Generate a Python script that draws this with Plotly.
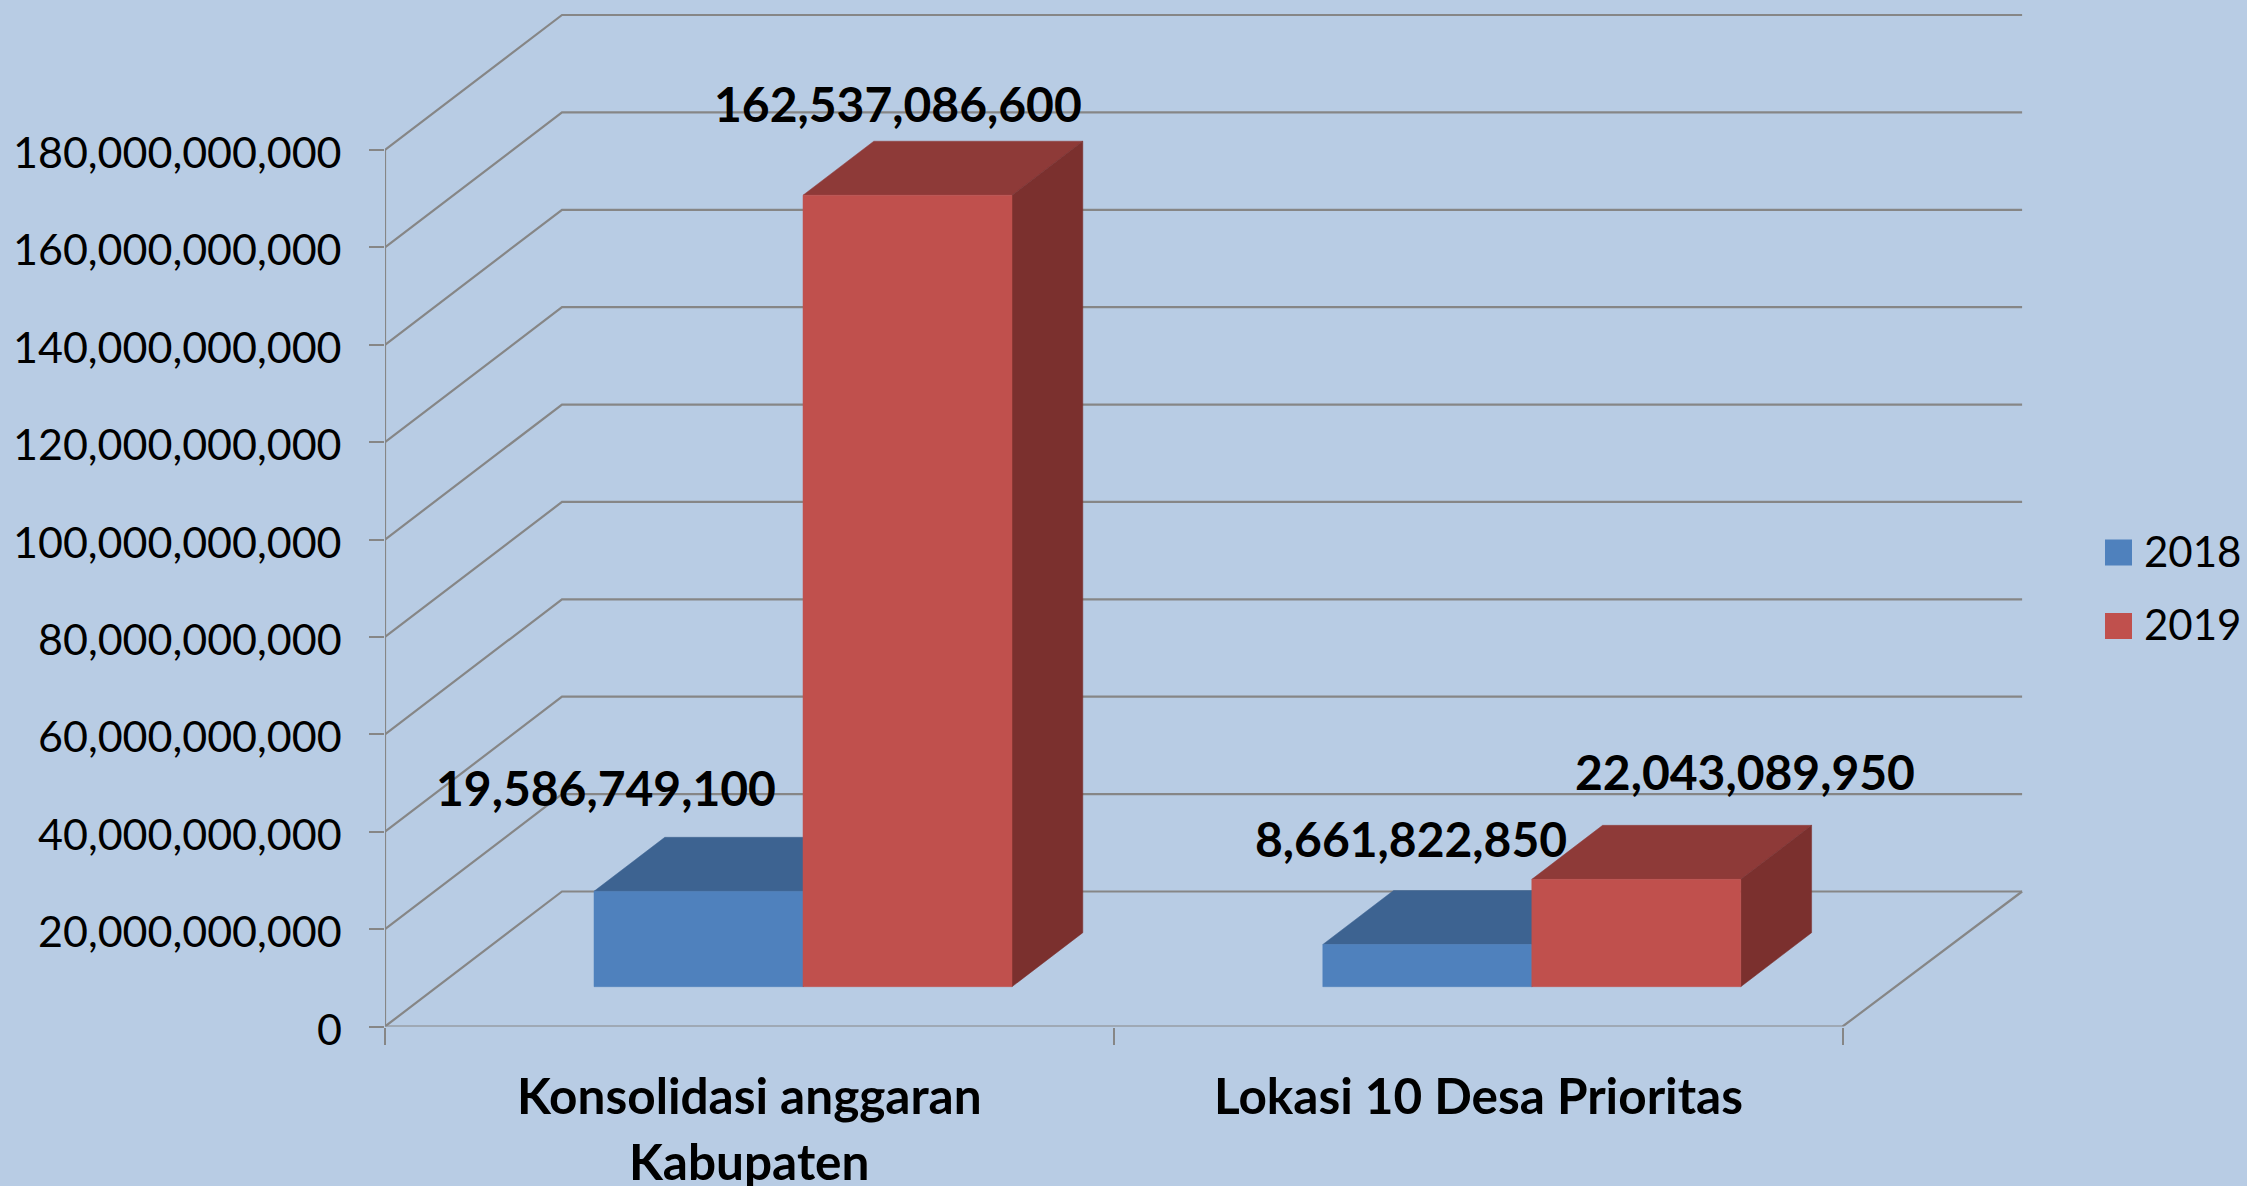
import plotly.graph_objects as go

categories = [["Konsolidasi anggaran", "Kabupaten"], ["Lokasi 10 Desa Prioritas"]]
series_names = ["2018", "2019"]
values_2018 = [19586749100, 8661822850]
values_2019 = [162537086600, 22043089950]
y_ticks = [0, 20e9, 40e9, 60e9, 80e9, 100e9, 120e9, 140e9, 160e9, 180e9]

W, H = 2247, 1186
PX0, PY0 = 385.0, 1026.5
PX_PER_CAT = 728.8
PX_PER_VAL = 876.5 / 180e9
DEPTH_X = 177 / PX_PER_CAT
DEPTH_Y = 135 / PX_PER_VAL
BACK_EXTRA = 2.5 / PX_PER_CAT
BAR_W = 209 / PX_PER_CAT
BAR_D0, BAR_D1 = 0.295, 0.695
BG = "#B8CCE4"
GRID = "#868686"
COLORS = [("#4F81BD", "#3D6391", "#36587F"), ("#C0504D", "#8E3A38", "#7B302E")]
LABEL_SHIFT = [[(-93, 104), (-16, 106)], [(-10, 92), (109, 108)]]

fig = go.Figure()


def lines(xs, ys):
    fig.add_trace(go.Scatter(x=xs, y=ys, mode="lines", showlegend=False, hoverinfo="skip",
                             line=dict(color=GRID, width=2.2)))


gx, gy = [], []
for v in y_ticks:
    gx += [0, DEPTH_X, 2 + DEPTH_X + BACK_EXTRA, None]
    gy += [v, v + DEPTH_Y, v + DEPTH_Y, None]
gx += [0, 0, None, 0, 2, 2 + DEPTH_X + BACK_EXTRA]
gy += [0, y_ticks[-1], None, 0, 0, DEPTH_Y]
lines(gx, gy)


def face(pts, color, name):
    fig.add_trace(go.Scatter(x=[p[0] for p in pts], y=[p[1] for p in pts], mode="lines",
                             fill="toself", fillcolor=color, line=dict(color=color, width=0.5),
                             name=name, showlegend=False, hoverinfo="skip"))


all_values = [values_2018, values_2019]
ann = []
for s, vals in enumerate(all_values):
    for c, v in enumerate(vals):
        left = c + 0.5 + (53.6 / PX_PER_CAT) + (s - 1) * BAR_W
        right = left + BAR_W
        bdx, bdy = (BAR_D1 - BAR_D0) * DEPTH_X, (BAR_D1 - BAR_D0) * DEPTH_Y
        base = BAR_D0 * DEPTH_Y
        top = base + v
        front, upper, side = COLORS[s]
        face([(left, top), (right, top), (right + bdx, top + bdy), (left + bdx, top + bdy), (left, top)],
             upper, series_names[s])
        face([(right, base), (right + bdx, base + bdy), (right + bdx, top + bdy), (right, top), (right, base)],
             side, series_names[s])
        face([(left, base), (right, base), (right, top), (left, top), (left, base)],
             front, series_names[s])
        sx, sy = LABEL_SHIFT[s][c]
        ann.append(dict(x=(left + right) / 2, y=top, text=f"{v:,}", showarrow=False,
                        xshift=sx, yshift=sy, xanchor="center", yanchor="middle",
                        font=dict(family="Lato", size=48, color="black", weight="bold")))

for c, cat in enumerate(categories):
    for i, line in enumerate(cat):
        ann.append(dict(x=c + 0.5, xref="x", y=1 - ((1095 + 66 * i) / H), yref="paper", text=line,
                        showarrow=False, xanchor="center", yanchor="middle",
                        font=dict(family="Lato", size=49.5, color="black", weight="bold")))

for v in y_ticks:
    ann.append(dict(x=344 / W, xref="paper", y=v, yref="y", yshift=-1.5, text=f"{int(v):,}", showarrow=False,
                    xanchor="right", yanchor="middle",
                    font=dict(family="Lato", size=43, color="black")))

shapes = []
for s, name in enumerate(series_names):
    cy = 552.5 + s * 73.5
    shapes.append(dict(type="rect", xref="paper", yref="paper", x0=2105 / W, x1=2132 / W,
                       y0=1 - (cy - 13) / H, y1=1 - (cy + 13) / H,
                       fillcolor=COLORS[s][0], line=dict(width=0)))
    ann.append(dict(x=2142 / W, xref="paper", y=1 - (cy - 2) / H, yref="paper", text=name, showarrow=False,
                    xanchor="left", yanchor="middle", font=dict(family="Lato", size=42, color="black")))

fig.update_layout(
    width=W, height=H, autosize=False, margin=dict(l=0, r=0, t=0, b=0),
    paper_bgcolor=BG, plot_bgcolor=BG, showlegend=False,
    annotations=ann, shapes=shapes,
    xaxis=dict(domain=[PX0 / W, 1], range=[0, (W - PX0) / PX_PER_CAT], showgrid=False, zeroline=False,
               tickvals=[0, 1, 2], ticktext=["", "", ""], ticks="outside", ticklen=17, tickwidth=2,
               tickcolor=GRID, showline=False, automargin=False),
    yaxis=dict(domain=[(H - PY0) / H, 1], range=[0, PY0 / PX_PER_VAL], showgrid=False, zeroline=False,
               tickvals=y_ticks, showticklabels=False, ticks="outside", ticklen=15, tickwidth=2,
               tickcolor=GRID, showline=False, automargin=False),
)

fig.write_html("out.html", config={"displayModeBar": False},
               post_script="document.body.style.margin='0';document.body.style.overflow='hidden';")
